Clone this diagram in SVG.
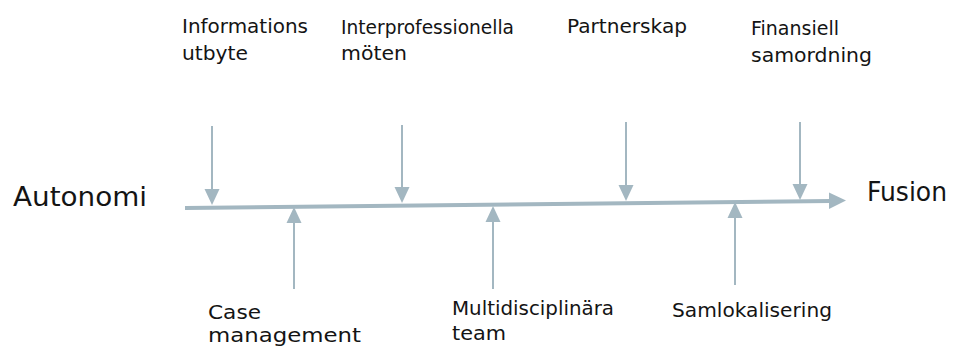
<svg xmlns="http://www.w3.org/2000/svg" width="953" height="347" viewBox="0 0 953 347">
<style>
.t{font-family:"DejaVu Sans","Liberation Sans",sans-serif;font-size:19px;fill:#141414}
.b{font-family:"DejaVu Sans","Liberation Sans",sans-serif;font-size:26px;fill:#141414}
.ln{stroke:#A3B7C1;fill:none}
.hd{fill:#A3B7C1}
</style>
<rect width="953" height="347" fill="#fff"/>
<g id="connectors">
<line class="ln" x1="185" y1="208" x2="831" y2="201" stroke-width="4"/>
<polygon class="hd" points="846,200.5 829,192.5 829,209"/>
<line class="ln" x1="212" y1="126" x2="212" y2="190" stroke-width="2"/>
<polygon class="hd" points="204.5,189 219.5,189 212,205"/>
<line class="ln" x1="402" y1="125" x2="402" y2="188" stroke-width="2"/>
<polygon class="hd" points="394.5,187 409.5,187 402,203"/>
<line class="ln" x1="626" y1="122" x2="626" y2="186" stroke-width="2"/>
<polygon class="hd" points="618.5,185 633.5,185 626,201"/>
<line class="ln" x1="800" y1="122" x2="800" y2="185" stroke-width="2"/>
<polygon class="hd" points="792.5,184 807.5,184 800,200"/>
<line class="ln" x1="294" y1="222" x2="294" y2="289" stroke-width="2"/>
<polygon class="hd" points="286.5,223 301.5,223 294,207"/>
<line class="ln" x1="493" y1="221" x2="493" y2="289" stroke-width="2"/>
<polygon class="hd" points="485.5,222 500.5,222 493,206"/>
<line class="ln" x1="735" y1="217" x2="735" y2="285" stroke-width="2"/>
<polygon class="hd" points="727.5,218 742.5,218 735,202"/>
</g>
<g id="autonomi"><text class="b" x="13" y="206" textLength="134" lengthAdjust="spacingAndGlyphs">Autonomi</text></g>
<g id="fusion"><text class="b" x="867" y="201" textLength="80" lengthAdjust="spacingAndGlyphs">Fusion</text></g>
<g id="informationsutbyte">
<text class="t" x="182" y="33" textLength="126" lengthAdjust="spacingAndGlyphs">Informations</text>
<text class="t" x="182" y="60" textLength="66" lengthAdjust="spacingAndGlyphs">utbyte</text>
</g>
<g id="interprofessionella">
<text class="t" x="341" y="34" textLength="173" lengthAdjust="spacingAndGlyphs">Interprofessionella</text>
<text class="t" x="341" y="60" textLength="66" lengthAdjust="spacingAndGlyphs">möten</text>
</g>
<g id="partnerskap">
<text class="t" x="567" y="33" textLength="120" lengthAdjust="spacingAndGlyphs">Partnerskap</text>
</g>
<g id="finansiell">
<text class="t" x="751" y="35" textLength="88" lengthAdjust="spacingAndGlyphs">Finansiell</text>
<text class="t" x="751" y="62" textLength="121" lengthAdjust="spacingAndGlyphs">samordning</text>
</g>
<g id="case">
<text class="t" x="208" y="319" textLength="53" lengthAdjust="spacingAndGlyphs">Case</text>
<text class="t" x="208" y="342" textLength="153" lengthAdjust="spacingAndGlyphs">management</text>
</g>
<g id="multidisciplinara">
<text class="t" x="452" y="315" textLength="162" lengthAdjust="spacingAndGlyphs">Multidisciplinära</text>
<text class="t" x="452" y="340" textLength="54" lengthAdjust="spacingAndGlyphs">team</text>
</g>
<g id="samlokalisering">
<text class="t" x="672" y="317" textLength="160" lengthAdjust="spacingAndGlyphs">Samlokalisering</text>
</g>
</svg>
